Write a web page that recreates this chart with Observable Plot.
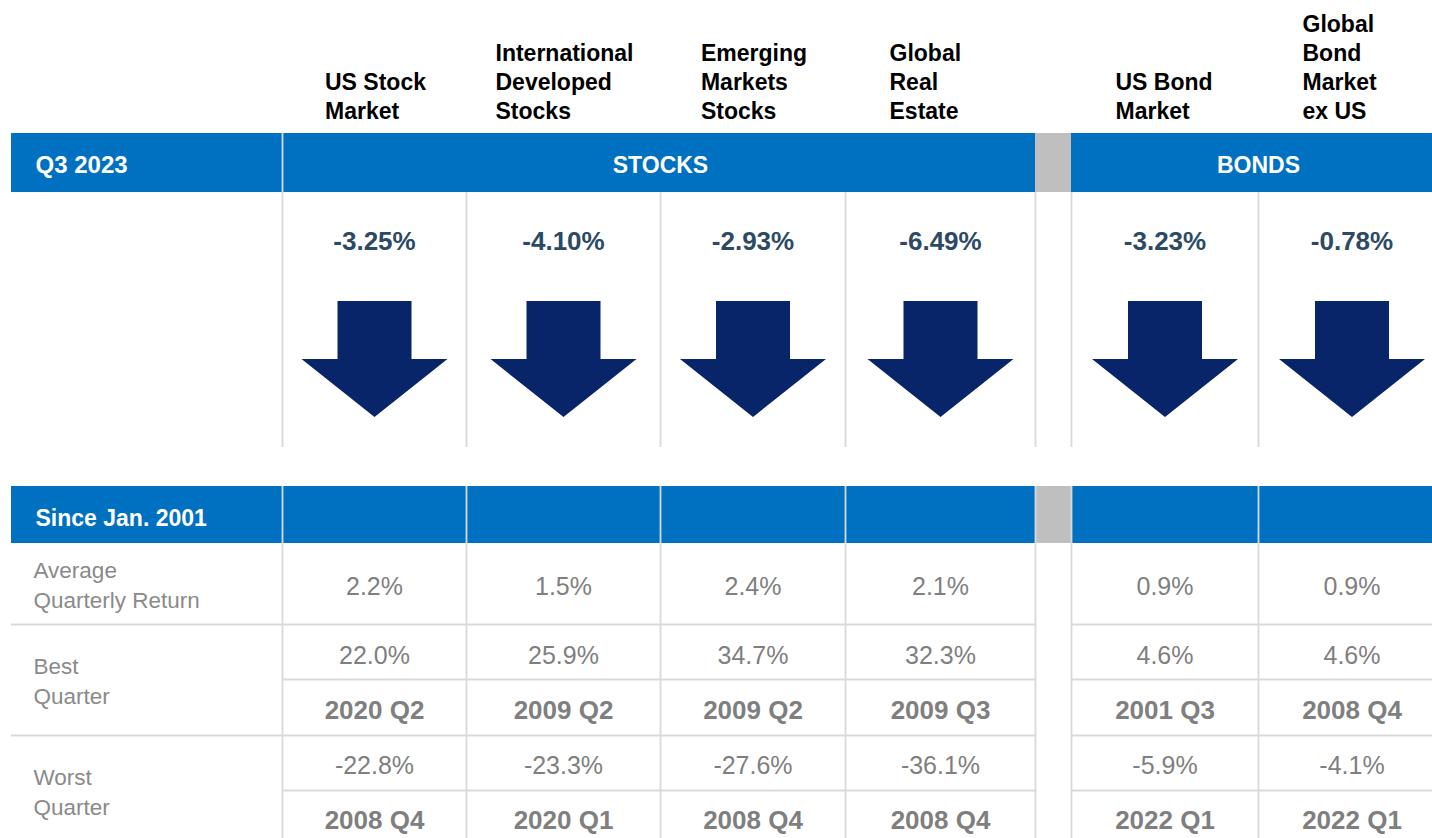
<!DOCTYPE html>
<html>
<head>
<meta charset="utf-8">
<script src="https://cdn.jsdelivr.net/npm/d3@7"></script>
<script src="https://cdn.jsdelivr.net/npm/@observablehq/plot@0.6"></script>
<style>
  html, body { margin: 0; padding: 0; background: #ffffff; }
  #chart svg { display: block; }
</style>
</head>
<body>
<div id="chart"></div>
<script>
// ---------------- DATA ----------------
const assetClasses = [
  "US Stock\nMarket",
  "International\nDeveloped\nStocks",
  "Emerging\nMarkets\nStocks",
  "Global\nReal\nEstate",
  "US Bond\nMarket",
  "Global\nBond\nMarket\nex US"
];
const assetGroups = ["STOCKS", "STOCKS", "STOCKS", "STOCKS", "BONDS", "BONDS"];
const quarterReturns = [-3.25, -4.10, -2.93, -6.49, -3.23, -0.78];
const avgQuarterlyReturn = [2.2, 1.5, 2.4, 2.1, 0.9, 0.9];
const bestQuarterReturn = [22.0, 25.9, 34.7, 32.3, 4.6, 4.6];
const bestQuarterPeriod = ["2020 Q2", "2009 Q2", "2009 Q2", "2009 Q3", "2001 Q3", "2008 Q4"];
const worstQuarterReturn = [-22.8, -23.3, -27.6, -36.1, -5.9, -4.1];
const worstQuarterPeriod = ["2008 Q4", "2020 Q1", "2008 Q4", "2008 Q4", "2022 Q1", "2022 Q1"];
const groupNames = ["STOCKS", "BONDS"];
const periodTitle = "Q3 2023";
const historyTitle = "Since Jan. 2001";
const rowLabels = ["Average\nQuarterly Return", "Best\nQuarter", "Worst\nQuarter"];

// ---------------- LAYOUT / STYLE ----------------
const FONT = "'Liberation Sans', Arial, Helvetica, sans-serif";
const GAP = 0.2;
const BLUE = "#0070C0", GAP_GRAY = "#BFBFBF", GRID = "#D9D9D9";
const ARROW = "#072568", PCT = "#2C4A63", VAL = "#7F7F7F", LAB = "#8A8A8A";
const L = {
  headerBase: 118, bar1: [133, 192], barTextBase1: 172.5, top: [192, 447],
  pctBase: 249, arrowY: 358.5,
  bar2: [486, 543], barTextBase2: 525, bodyEnd: 838,
  rowLines: [624, 735], subLines: [679, 790],
  avgBase: 594, bestBase: 663, bestDateBase: 718, worstBase: 773, worstDateBase: 828,
  labelBases: [607, 703, 814],
  colEdgesPx: [11, 282, 466, 660, 845, 1035, 1071, 1258, 1445]
};

const cols = assetClasses.map((name, i) => ({
  name,
  group: assetGroups[i],
  ret: quarterReturns[i],
  avg: avgQuarterlyReturn[i],
  best: bestQuarterReturn[i],
  bestP: bestQuarterPeriod[i],
  worst: worstQuarterReturn[i],
  worstP: worstQuarterPeriod[i],
  slot: i + (assetGroups[i] === groupNames[1] ? GAP : 0)
}));
const stocksEnd = cols.filter(c => c.group === groupNames[0]).length;
const bondsStart = stocksEnd + GAP;
const slotEnd = cols.length + GAP;

// piecewise slot -> pixel scale (label column, stock columns, separator, bond columns)
const slotEdges = [-1, ...cols.filter(c => c.group === groupNames[0]).map(c => c.slot), stocksEnd,
  ...cols.filter(c => c.group === groupNames[1]).map(c => c.slot), slotEnd];
const xSpec = {type: "linear", domain: slotEdges, range: L.colEdgesPx};
const xScale = Plot.scale({x: xSpec});

const groups = groupNames.map(g => {
  const s = cols.filter(c => c.group === g).map(c => c.slot);
  return {name: g, x1: d3.min(s), x2: d3.max(s) + 1};
});

// header text block placement (left aligned blocks, kept inside the column)
const mctx = document.createElement("canvas").getContext("2d");
mctx.font = `bold 23px ${FONT}`;
function headerX(d) {
  const w = Math.max(...d.name.split("\n").map(s => mctx.measureText(s).width));
  const left = xScale.apply(d.slot), center = xScale.apply(d.slot + 0.5);
  return xScale.invert(Math.min(left + 44, center - w / 2 + 1));
}

// custom arrow symbols
function arrowPath(ctx, size, dir) {
  const r = Math.sqrt(size / Math.PI);
  const sw = r * 37 / 73, h = r * 58 / 73;
  ctx.moveTo(-sw, -dir * h);
  ctx.lineTo(sw, -dir * h);
  ctx.lineTo(sw, 0);
  ctx.lineTo(r, 0);
  ctx.lineTo(0, dir * h);
  ctx.lineTo(-r, 0);
  ctx.lineTo(-sw, 0);
  ctx.closePath();
}
const arrowDown = {draw(ctx, size) { arrowPath(ctx, size, 1); }};
const arrowUp = {draw(ctx, size) { arrowPath(ctx, size, -1); }};

// grid segments
const boundaries = [...cols.map(c => c.slot), stocksEnd];
const topRules = boundaries.map(b => ({x: b, y1: b === 0 ? L.bar1[0] : L.top[0], y2: L.top[1]}));
const bodyRules = boundaries.map(b => ({x: b, y1: L.bar2[0], y2: L.bodyEnd}));
const hRules = [
  ...L.rowLines.flatMap(y => [{y, x1: -1, x2: stocksEnd}, {y, x1: bondsStart, x2: slotEnd}]),
  ...L.subLines.flatMap(y => [{y, x1: 0, x2: stocksEnd}, {y, x1: bondsStart, x2: slotEnd}])
];

const bar1Cells = [{x1: -1, x2: 0}, ...groups.map(g => ({x1: g.x1, x2: g.x2}))];
const bar2Cells = [{x1: -1, x2: 0}, ...cols.map(c => ({x1: c.slot, x2: c.slot + 1}))];
const gapCells = [L.bar1, L.bar2].map(([y1, y2]) => ({x1: stocksEnd, x2: bondsStart, y1, y2}));

const fmt2 = v => v.toFixed(2) + "%";
const fmt1 = v => v.toFixed(1) + "%";
const cx = d => d.slot + 0.5;
const common = {textAnchor: "middle", lineAnchor: "bottom", lineHeight: 1};

const chart = Plot.plot({
  width: 1432,
  height: 838,
  margin: 0,
  style: {fontFamily: FONT, background: "#ffffff", overflow: "hidden"},
  x: {...xSpec, axis: null},
  y: {type: "identity", axis: null},
  marks: [
    // blue header bars
    Plot.rect(bar1Cells, {x1: "x1", x2: "x2", y1: () => L.bar1[0], y2: () => L.bar1[1], fill: BLUE}),
    Plot.rect(bar2Cells, {x1: "x1", x2: "x2", y1: () => L.bar2[0], y2: () => L.bar2[1], fill: BLUE}),
    Plot.rect(gapCells, {x1: "x1", x2: "x2", y1: "y1", y2: "y2", fill: GAP_GRAY}),
    // grid
    Plot.ruleX(topRules, {x: "x", y1: "y1", y2: "y2", stroke: GRID, strokeWidth: 1.8}),
    Plot.ruleX(bodyRules, {x: "x", y1: "y1", y2: "y2", stroke: GRID, strokeWidth: 1.8}),
    Plot.ruleY(hRules, {y: "y", x1: "x1", x2: "x2", stroke: GRID, strokeWidth: 1.8}),
    // column headers
    Plot.text(cols, {
      x: headerX, y: () => L.headerBase, text: "name",
      textAnchor: "start", lineAnchor: "bottom", lineHeight: 1.26,
      fontSize: 23, fontWeight: "bold", fill: "#000000"
    }),
    // bar titles
    Plot.text([periodTitle], {x: () => -1, dx: 24, y: () => L.barTextBase1, text: d => d,
      textAnchor: "start", lineAnchor: "bottom", fontSize: 24, fontWeight: "bold", fill: "#ffffff"}),
    Plot.text(groups, {x: d => (d.x1 + d.x2) / 2, y: () => L.barTextBase1, text: "name",
      ...common, fontSize: 23, fontWeight: "bold", fill: "#ffffff"}),
    Plot.text([historyTitle], {x: () => -1, dx: 24, y: () => L.barTextBase2, text: d => d,
      textAnchor: "start", lineAnchor: "bottom", fontSize: 23, fontWeight: "bold", fill: "#ffffff"}),
    // quarter returns
    Plot.text(cols, {x: cx, y: () => L.pctBase, text: d => fmt2(d.ret),
      ...common, fontSize: 26, fontWeight: "bold", fill: PCT}),
    Plot.dot(cols, {filter: d => d.ret < 0, x: cx, y: () => L.arrowY, r: 73, symbol: arrowDown, fill: ARROW, stroke: "none"}),
    Plot.dot(cols, {filter: d => d.ret >= 0, x: cx, y: () => L.arrowY, r: 73, symbol: arrowUp, fill: ARROW, stroke: "none"}),
    // row labels
    Plot.text(rowLabels, {x: () => -1, dx: 22, y: (d, i) => L.labelBases[i], text: d => d,
      textAnchor: "start", lineAnchor: "bottom", lineHeight: 1.333, fontSize: 22.5, fill: LAB}),
    // body values
    Plot.text(cols, {x: cx, y: () => L.avgBase, text: d => fmt1(d.avg), ...common, fontSize: 25, fill: VAL}),
    Plot.text(cols, {x: cx, y: () => L.bestBase, text: d => fmt1(d.best), ...common, fontSize: 25, fill: VAL}),
    Plot.text(cols, {x: cx, y: () => L.bestDateBase, text: "bestP", ...common, fontSize: 26, fontWeight: "bold", fill: VAL}),
    Plot.text(cols, {x: cx, y: () => L.worstBase, text: d => fmt1(d.worst), ...common, fontSize: 25, fill: VAL}),
    Plot.text(cols, {x: cx, y: () => L.worstDateBase, text: "worstP", ...common, fontSize: 26, fontWeight: "bold", fill: VAL})
  ]
});

document.getElementById("chart").appendChild(chart);
</script>
</body>
</html>
